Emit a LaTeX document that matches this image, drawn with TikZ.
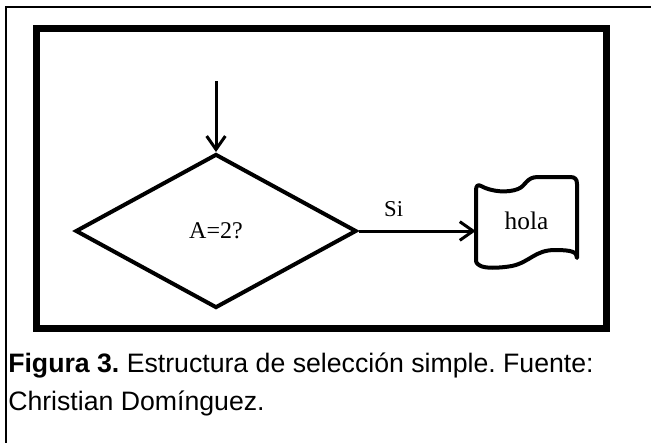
\documentclass[tikz,border=0pt]{standalone}
\usepackage{fontspec}
\setmainfont{Liberation Serif}
\setsansfont{Liberation Sans}
\usepackage{tikz}
\usetikzlibrary{shapes.geometric}
\usetikzlibrary{arrows.meta}
\usetikzlibrary{positioning}
\tikzset{
    decnode/.style = {diamond, draw=black, line width=3pt, inner sep=0pt, minimum width=210.75pt, minimum height=115.5pt, font=\fontsize{18}{20}\selectfont},
    tapenode/.style = {rectangle, inner sep=0pt, minimum width=75.75pt, minimum height=60pt, font=\fontsize{19}{22}\selectfont},
    capnode/.style = {anchor=base west, inner sep=0pt, font=\sffamily\fontsize{20}{24}\selectfont},
}
\frenchspacing

\begin{document}
\begin{tikzpicture}[x=0.75pt, y=-0.75pt]
\tikzset{
    edgea/.style = {-{Straight Barb[length=10pt,width=14pt]}, line width=2.25pt},
    framet/.style = {line width=5.25pt, line join=miter},
    tapeline/.style = {line width=3pt, line join=round},
}
\useasboundingbox (0,0) rectangle (651,443);
% marcos
\draw[line width=0.9pt] (651,7) -- (6,7) -- (6,443);
\draw[framet] (36,28.5) rectangle (606,328);
%
\coordinate (ini) at (216,81);
\node[decnode] at (216,231) (dec) {A=2?};
\node[tapenode] at (526.5,221) (hola) {hola};
\draw[tapeline]
  (476,190) .. controls (476,186) and (478,184) .. (481,186)
  .. controls (492,192) and (508,193) .. (518,189)
  .. controls (526,186) and (526,177) .. (538,177)
  -- (570,177) .. controls (575,177) and (577,179) .. (577,184)
  -- (577,258)
  .. controls (577,252) and (572,250) .. (555,250)
  .. controls (535,250) and (530,262) .. (512,266)
  .. controls (500,268) and (484,269) .. (479,265)
  .. controls (476,263) and (476,262) .. (476,258) -- cycle;
%
\draw[edgea] (ini) -- (dec.north);
\draw[edgea] (dec.east) -- (dec.east -| hola.west)
  node[pos=0.3, above=6pt, font=\fontsize{17}{19}\selectfont] {Si};
%
\node[capnode] at (8,372) (cap1) {\textbf{Figura 3.} Estructura de selección simple. Fuente:};
\node[capnode] at (8,410) (cap2) {Christian Domínguez.};
\end{tikzpicture}
\end{document}
